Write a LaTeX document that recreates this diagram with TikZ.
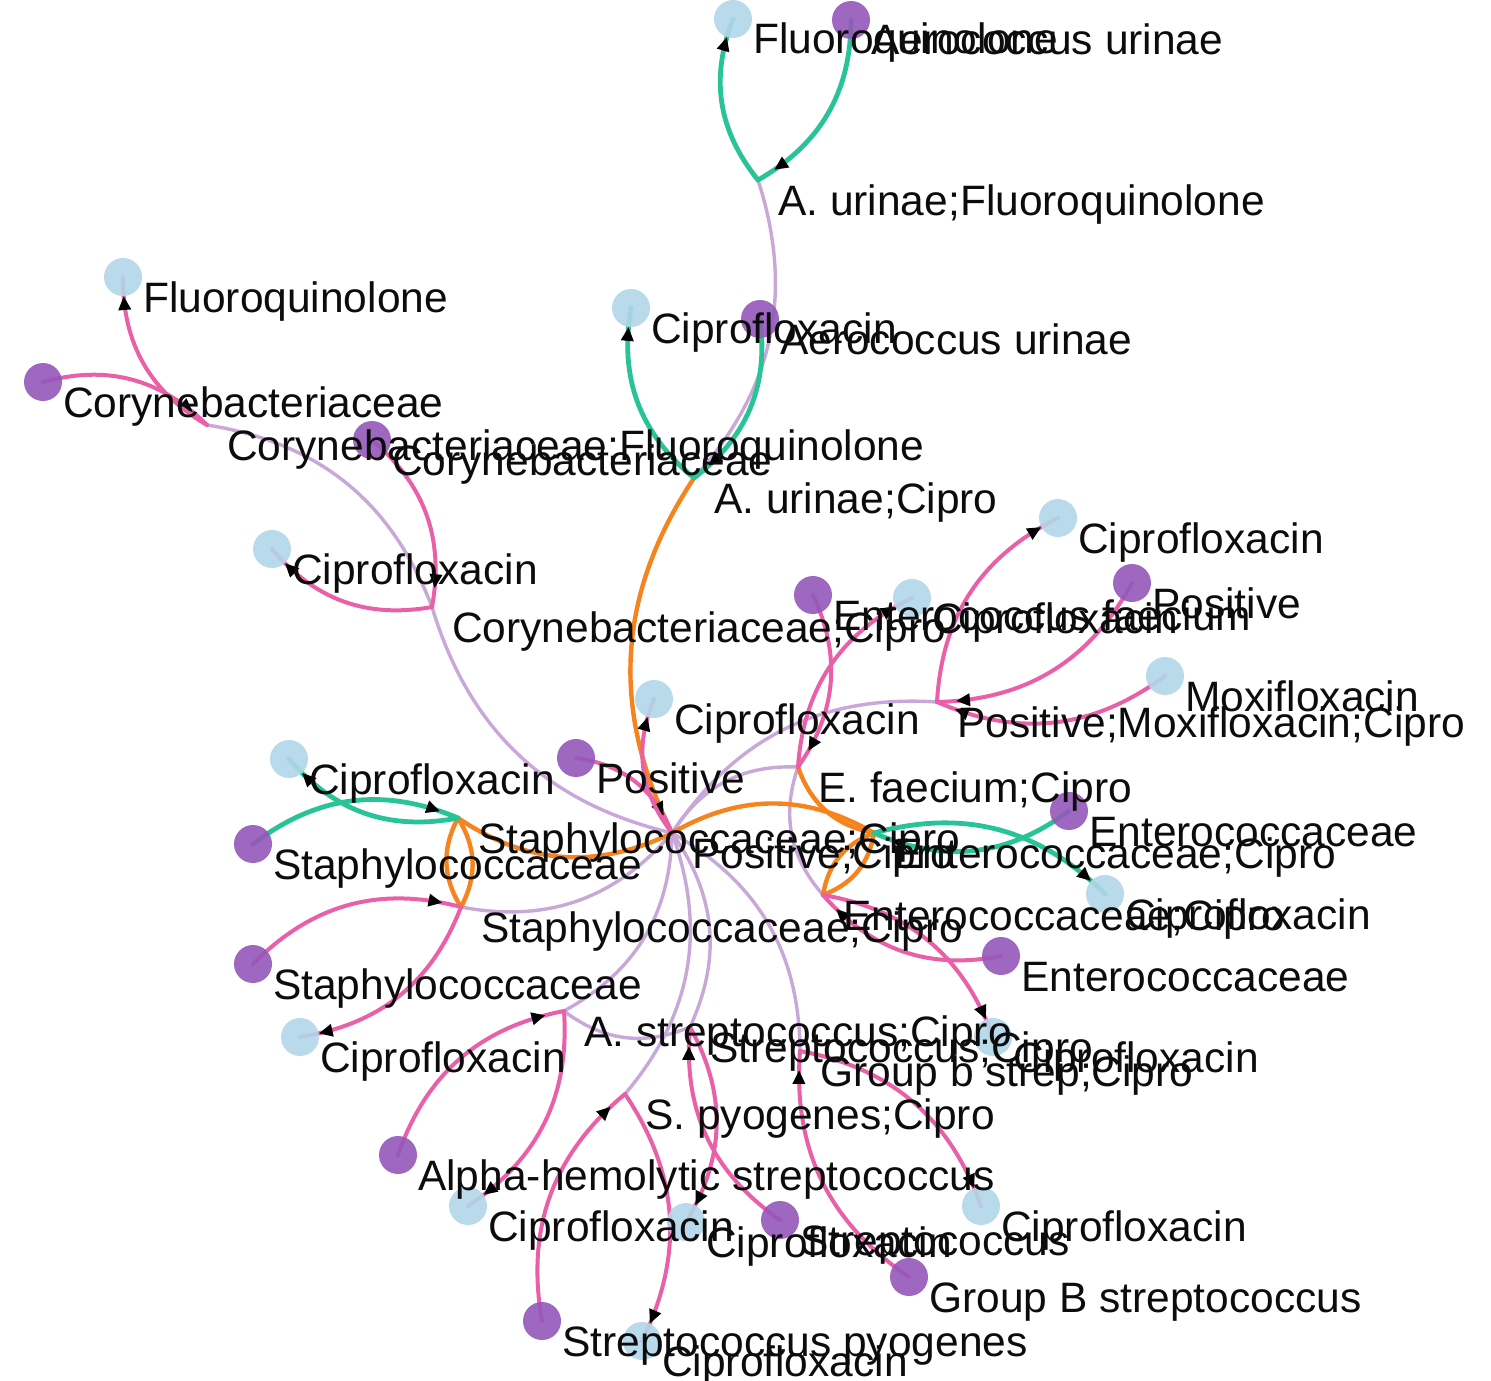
\documentclass[tikz,border=0pt]{standalone}
\usepackage{fontspec}
\setmainfont{Liberation Sans}
\usetikzlibrary{arrows.meta,decorations.markings}
\definecolor{drugc}{RGB}{178,214,232}
\definecolor{orgc}{RGB}{148,88,186}
\definecolor{pinkc}{RGB}{233,96,168}
\definecolor{tealc}{RGB}{40,196,152}
\definecolor{orangec}{RGB}{246,132,30}
\definecolor{lavc}{RGB}{200,168,216}
\definecolor{txtc}{RGB}{12,12,12}
\newcommand\putlabel[2]{\node[lbl] (#1t) at ([shift={(20,35)}]#1) {#2};}
\begin{document}
\begin{tikzpicture}[x=1pt,y=-1pt,
  drug/.style={circle,fill=drugc,fill opacity=0.9,inner sep=0pt,minimum size=38pt},
  org/.style={circle,fill=orgc,fill opacity=0.9,inner sep=0pt,minimum size=38pt},
  lbl/.style={anchor=base west,inner sep=0pt,text=txtc,font=\fontsize{42.5}{50}\selectfont},
  link/.style={bend left=30,line cap=round},
  lav/.style={link,draw=lavc,line width=3.4pt},
  ora/.style={link,draw=orangec,line width=4.4pt},
  tea/.style={link,draw=tealc,line width=4.8pt},
  pnk/.style={link,draw=pinkc,line width=4pt},
  arr/.style={postaction={decorate,decoration={markings,
      mark=at position -19pt with {\arrow[black]{Triangle[length=14pt,width=12pt]}}}}}
]
\useasboundingbox (0,0) rectangle (1491,1381);
\fill[white] (0,0) rectangle (1491,1381);

% drugs
\coordinate (B1) at (733,19);
\coordinate (B2) at (123,277);
\coordinate (B3) at (631,308);
\coordinate (B4) at (272,549);
\coordinate (B5) at (1058,518);
\coordinate (B6) at (912,598);
\coordinate (B7) at (1165,676);
\coordinate (B8) at (654,699);
\coordinate (B9) at (289,759);
\coordinate (B10) at (300,1037);
\coordinate (B11) at (468,1206);
\coordinate (B12) at (686,1222);
\coordinate (B13) at (981,1206);
\coordinate (B14) at (642,1341);
\coordinate (B15) at (1105,894);
\coordinate (B16) at (993,1037);
% organisms and categories
\coordinate (P1) at (851,20);
\coordinate (P2) at (43,382);
\coordinate (P3) at (760,319);
\coordinate (P4) at (372,440);
\coordinate (P5) at (1132,583);
\coordinate (P6) at (813,595);
\coordinate (P7) at (576,758);
\coordinate (P8) at (253,844);
\coordinate (P9) at (253,964);
\coordinate (P10) at (398,1155);
\coordinate (P11) at (780,1220);
\coordinate (P12) at (909,1277);
\coordinate (P13) at (542,1321);
\coordinate (P14) at (1069,811);
\coordinate (P15) at (1001,956);
% combination nodes
\coordinate (J1) at (758,180);
\coordinate (J2) at (207,425);
\coordinate (J3) at (694,478);
\coordinate (J4) at (432,607);
\coordinate (J5) at (937,702);
\coordinate (J6) at (798,767);
\coordinate (H) at (672,833);
\coordinate (JS1) at (458,818);
\coordinate (JS2) at (461,907);
\coordinate (JE1) at (874,833);
\coordinate (JE2) at (823,895);
\coordinate (JA) at (564,1011);
\coordinate (JS) at (690,1027);
\coordinate (JG) at (800,1051);
\coordinate (JP) at (625,1094);

% hierarchy links
\draw[lav] (J1) to (J3);
\draw[lav] (J2) to (J4);
\draw[lav] (H) to (J4);
\draw[lav] (H) to (J5);
\draw[lav] (H) to (J6);
\draw[lav] (JE2) to (J6);
\draw[lav] (H) to (JS2);
\draw[lav] (H) to (JA);
\draw[lav] (H) to (JS);
\draw[lav] (H) to (JG);
\draw[lav] (H) to (JP);
\draw[lav] (JS) to (JA);

% orange links
\draw[ora] (H) to (J3);
\draw[ora] (H) to (JS1);
\draw[ora] (JS1) to (JS2);
\draw[ora] (JS2) to (JS1);
\draw[ora] (H) to (JE1);
\draw[ora] (JE1) to (JE2);
\draw[ora] (JE2) to (JE1);
\draw[ora] (JE1) to (J6);

% teal links
\draw[tea,arr] (P1) to (J1);
\draw[tea,arr] (J1) to (B1);
\draw[tea,arr] (P3) to (J3);
\draw[tea,arr] (J3) to (B3);
\draw[tea,arr] (P8) to (JS1);
\draw[tea,arr] (JS1) to (B9);
\draw[tea,arr] (P14) to (JE1);
\draw[tea,arr] (JE1) to (B15);

% pink links
\draw[pnk,arr] (P2) to (J2);
\draw[pnk,arr] (J2) to (B2);
\draw[pnk,arr] (P4) to (J4);
\draw[pnk,arr] (J4) to (B4);
\draw[pnk,arr] (P5) to (J5);
\draw[pnk,arr] (J5) to (B5);
\draw[pnk,arr] (B7) to (J5);
\draw[pnk,arr] (P6) to (J6);
\draw[pnk,arr] (J6) to (B6);
\draw[pnk,arr] (P7) to (H);
\draw[pnk,arr] (H) to (B8);
\draw[pnk,arr] (P9) to (JS2);
\draw[pnk,arr] (JS2) to (B10);
\draw[pnk,arr] (P10) to (JA);
\draw[pnk,arr] (JA) to (B11);
\draw[pnk,arr] (P13) to (JP);
\draw[pnk,arr] (JP) to (B14);
\draw[pnk,arr] (P11) to (JS);
\draw[pnk,arr] (JS) to (B12);
\draw[pnk,arr] (P12) to (JG);
\draw[pnk,arr] (JG) to (B13);
\draw[pnk,arr] (P15) to (JE2);
\draw[pnk,arr] (JE2) to (B16);

% circles
\foreach \n in {B1,B2,B3,B4,B5,B6,B7,B8,B9,B10,B11,B12,B13,B14,B15,B16}
  \node[drug] (\n c) at (\n) {};
\foreach \n in {P1,P2,P3,P4,P5,P6,P7,P8,P9,P10,P11,P12,P13,P14,P15}
  \node[org] (\n c) at (\n) {};

% labels
\putlabel{B1}{Fluoroquinolone}
\putlabel{P1}{Aerococcus urinae}
\putlabel{J1}{A. urinae;Fluoroquinolone}
\putlabel{B2}{Fluoroquinolone}
\putlabel{P2}{Corynebacteriaceae}
\putlabel{B3}{Ciprofloxacin}
\putlabel{P3}{Aerococcus urinae}
\putlabel{J2}{Corynebacteriaceae;Fluoroquinolone}
\putlabel{P4}{Corynebacteriaceae}
\putlabel{J3}{A. urinae;Cipro}
\putlabel{B4}{Ciprofloxacin}
\putlabel{J4}{Corynebacteriaceae;Cipro}
\putlabel{B5}{Ciprofloxacin}
\putlabel{P5}{Positive}
\putlabel{P6}{Enterococcus faecium}
\putlabel{B6}{Ciprofloxacin}
\putlabel{B7}{Moxifloxacin}
\putlabel{J5}{Positive;Moxifloxacin;Cipro}
\putlabel{B8}{Ciprofloxacin}
\putlabel{J6}{E. faecium;Cipro}
\putlabel{P7}{Positive}
\putlabel{B9}{Ciprofloxacin}
\putlabel{JS1}{Staphylococcaceae;Cipro}
\putlabel{H}{Positive;Cipro}
\putlabel{P14}{Enterococcaceae}
\putlabel{JE1}{Enterococcaceae;Cipro}
\putlabel{P8}{Staphylococcaceae}
\putlabel{B15}{Ciprofloxacin}
\putlabel{JE2}{Enterococcaceae;Cipro}
\putlabel{JS2}{Staphylococcaceae;Cipro}
\putlabel{P15}{Enterococcaceae}
\putlabel{P9}{Staphylococcaceae}
\putlabel{JA}{A. streptococcus;Cipro}
\putlabel{B16}{Ciprofloxacin}
\putlabel{JS}{Streptococcus;Cipro}
\putlabel{B10}{Ciprofloxacin}
\putlabel{JG}{Group b strep;Cipro}
\putlabel{JP}{S. pyogenes;Cipro}
\putlabel{P10}{Alpha-hemolytic streptococcus}
\putlabel{B11}{Ciprofloxacin}
\putlabel{B13}{Ciprofloxacin}
\putlabel{B12}{Ciprofloxacin}
\putlabel{P11}{Streptococcus}
\putlabel{P12}{Group B streptococcus}
\putlabel{P13}{Streptococcus pyogenes}
\putlabel{B14}{Ciprofloxacin}
\end{tikzpicture}
\end{document}
